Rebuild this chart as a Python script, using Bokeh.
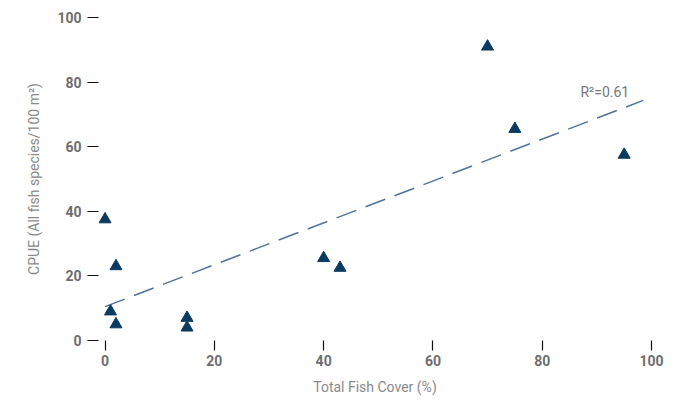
import numpy as np
from bokeh.plotting import figure
from bokeh.models import Label, Range1d, FixedTicker
from bokeh.embed import file_html
from bokeh.resources import INLINE

# Data
fish_cover = [0, 2, 1, 2, 15, 15, 40, 43, 70, 75, 95]
cpue = [37.5, 23, 9, 5, 7, 4, 25.5, 22.5, 91, 65.5, 57.5]
x_ticks = [0, 20, 40, 60, 80, 100]
y_ticks = [0, 20, 40, 60, 80, 100]
trend_x_span = [0, 98.5]
r2_label = "R\u00b2=0.61"

FONT = "Roboto"

p = figure(width=676, height=398, output_backend="svg", toolbar_location=None,
           x_range=Range1d(-1.2, 100), y_range=Range1d(0, 100),
           min_border_left=98, min_border_right=25, min_border_top=17, min_border_bottom=58)
p.outline_line_color = None
p.grid.grid_line_color = None

for ax in (p.xaxis, p.yaxis):
    ax.axis_line_color = None
    ax.major_tick_line_color = "#111111"
    ax.major_tick_line_width = 1.2
    ax.major_tick_in = 0
    ax.major_tick_out = 11
    ax.minor_tick_line_color = None
    ax.major_label_text_font = FONT
    ax.major_label_text_font_size = "14px"
    ax.major_label_text_font_style = "bold"
    ax.major_label_text_color = "#6d6e71"
    ax.axis_label_text_font = FONT
    ax.axis_label_text_font_size = "14px"
    ax.axis_label_text_font_style = "normal"
    ax.axis_label_text_color = "#8a8a8c"

p.xaxis.major_tick_out = 10
p.xaxis.ticker = FixedTicker(ticks=x_ticks)
p.yaxis.ticker = FixedTicker(ticks=y_ticks)
p.xaxis.axis_label = "Total Fish Cover (%)"
p.yaxis.axis_label = "CPUE (All fish species/100 m\u00b2)"
p.xaxis.major_label_standoff = 4
p.yaxis.major_label_standoff = 6
p.xaxis.axis_label_standoff = 10
p.yaxis.axis_label_standoff = 12

# Linear regression fitted from the data
slope, intercept = np.polyfit(fish_cover, cpue, 1)
tx = np.array(trend_x_span, dtype=float)
p.line(tx, slope * tx + intercept, line_color="#4f739c", line_width=1.5, line_dash="21 10")

p.scatter(fish_cover, cpue, marker="triangle", size=12, fill_color="#0a3a60", line_color="#0a3a60")

p.add_layout(Label(x=87, y=77, text=r2_label, text_font=FONT, text_font_size="14px",
                   text_color="#77787b", text_baseline="middle"))

open("out.html", "w").write(file_html(p, INLINE))
